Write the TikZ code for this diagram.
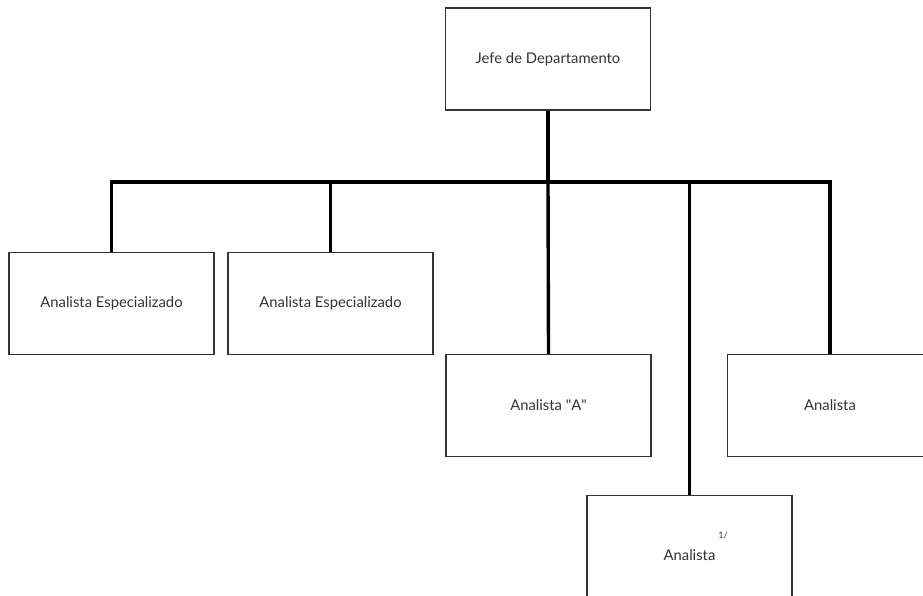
\documentclass[tikz,border=0pt]{standalone}
\usepackage{fontspec}
\setmainfont{Lato}
\usetikzlibrary{positioning}
\definecolor{boxline}{HTML}{333333}
\tikzstyle{post} = [draw=boxline, line width=1.4pt, minimum width=205pt, minimum height=102pt, align=center, text=boxline, font=\fontsize{14.8}{17}\selectfont]
\tikzstyle{link} = [draw=black, line width=3.4pt]

\begin{document}
\begin{tikzpicture}[x=1pt, y=-1pt]
    \useasboundingbox (0,0) rectangle (923,596);
    \clip (0,0) rectangle (923,596);

    \node [post] (jefe) at (548,59) {Jefe de Departamento};

    \node [post] (esp1) at (111.5,303.5) {Analista Especializado};
    \node [post] (esp2) at (330.5,303.5) {Analista Especializado};
    \node [post] (anA) at (548.5,405.5) {Analista \textquotedbl A\textquotedbl};
    \node [post] (an1) at (830,405.5) {Analista};
    \node [post] (an2) at (689.5,546.5) {Analista\rlap{\kern3pt\raisebox{2.9ex}{\fontsize{9}{10}\selectfont 1/}}};

    \coordinate (bus) at (548,182);

    \draw [link] (jefe.south) -- (bus);
    \draw [link] (bus) -| (esp1.north);
    \draw [link] (bus) -| (esp2.north);
    \draw [link] (bus) -- (anA.north);
    \draw [link] (bus) -| (an2.north);
    \draw [link] (bus) -| (an1.north);
\end{tikzpicture}
\end{document}
